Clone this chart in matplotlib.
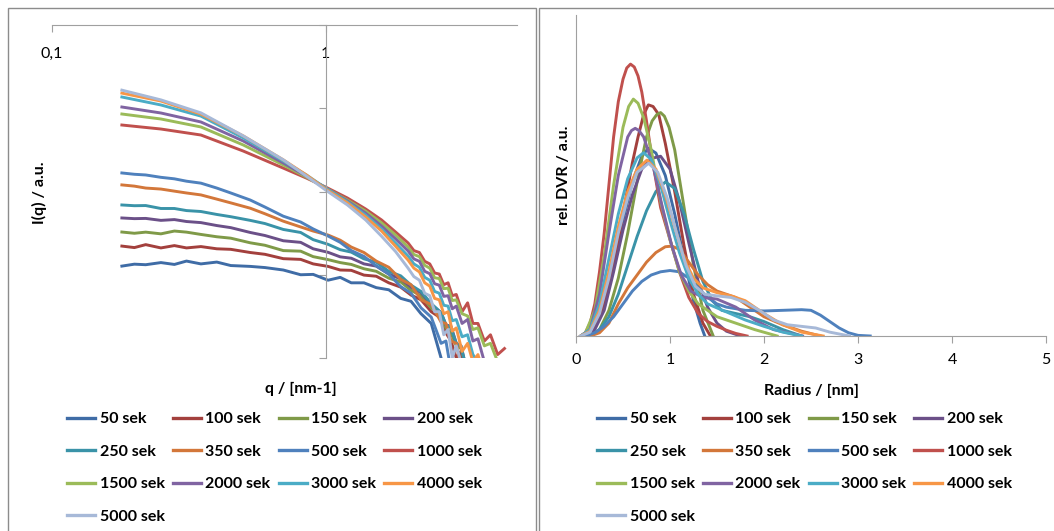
import matplotlib
matplotlib.use("Agg")
import matplotlib.pyplot as plt
from matplotlib.lines import Line2D
from matplotlib.patches import Rectangle
from matplotlib.ticker import NullLocator

plt.rcParams['font.family'] = ['Lato', 'DejaVu Sans']

labels = ["50 sek", "100 sek", "150 sek", "200 sek", "250 sek", "350 sek", "500 sek",
          "1000 sek", "1500 sek", "2000 sek", "3000 sek", "4000 sek", "5000 sek"]
colors = ["#3F6CA6", "#A3403D", "#7F9A48", "#6B5088", "#3A93A8", "#D3773A", "#4F81BD",
          "#C0504D", "#9BBB59", "#8064A2", "#4BACC6", "#F79646", "#A7B9D8"]

# ---- left: scattering curves I(q), log-log ----
q_lo = [0.18, 0.2, 0.22, 0.25, 0.28, 0.31, 0.35, 0.4, 0.45, 0.53, 0.6, 0.7, 0.81, 0.9,
        1.02, 1.13, 1.24, 1.38, 1.53, 1.7, 1.88, 2.05, 2.23, 2.43, 2.64, 2.75, 2.87,
        3.0, 3.12, 3.25, 3.40]
q_hi = [0.18, 0.25, 0.35, 0.50, 0.70, 0.85, 1.0, 1.2, 1.4, 1.6, 1.8, 2.0, 2.1, 2.2, 2.3,
        2.4, 2.5, 2.6, 2.7, 2.8, 2.9, 3.0, 3.15, 3.3, 3.45, 3.6, 3.8, 4.0, 4.25, 4.5]

I_50 = [12.7, 13.4, 13.2, 14.0, 13.3, 14.6, 13.5, 14.2, 12.9, 12.6, 12.2, 11.4, 10.0, 10.1,
        8.6, 9.3, 8.0, 8.0, 7.0, 6.6, 5.2, 4.8, 3.4, 2.6, 1.0, 0.3, 0.3, 0.3, 0.3, 0.3, 0.3]
I_100 = [22.1, 21.2, 23.0, 21.0, 22.4, 21.0, 21.8, 20.5, 20.2, 18.5, 17.6, 15.6, 15.3, 13.5,
         12.6, 11.4, 11.3, 9.9, 9.6, 8.0, 7.1, 5.7, 5.0, 3.6, 3.0, 2.0, 1.6, 1.0, 1.2, 0.3, 0.3]
I_150 = [32.6, 31.5, 32.5, 31.0, 33.5, 32.5, 30.5, 28.6, 27.5, 24.2, 22.6, 19.5, 19.2, 16.5,
         15.2, 14.0, 13.3, 11.8, 11.0, 9.1, 8.2, 6.5, 5.6, 4.0, 3.2, 2.3, 2.0, 1.4, 1.3, 0.8, 0.3]
I_200 = [48.1, 47.2, 47.5, 45.0, 46.0, 43.6, 42.3, 39.0, 36.8, 32.2, 29.6, 25.6, 24.5, 20.5,
         18.6, 16.4, 15.8, 13.5, 12.7, 10.2, 8.9, 7.1, 6.1, 4.4, 3.5, 2.5, 2.4, 1.5, 1.4, 0.8, 0.3]
I_250 = [68.9, 67.5, 67.8, 62.5, 62.5, 59.0, 57.5, 53.0, 49.8, 45.0, 41.2, 35.0, 32.2, 26.4,
         23.2, 20.0, 18.7, 15.5, 14.2, 11.0, 9.7, 7.5, 6.3, 4.5, 3.5, 2.5, 2.3, 1.5, 1.4, 0.8, 0.3]
I_350 = [120, 116, 110, 107, 101, 96, 91, 81, 73, 63, 54, 44, 37.5, 33.5, 30, 26, 21.5,
         18.5, 14.6, 12.3, 8.8, 7.6, 5.0, 4.4, 2.7, 2.6, 1.6, 1.5, 0.8, 0.3, 0.3]
I_500 = [167, 161, 158, 148, 142, 133, 126, 110, 96, 79, 65, 50.5, 43, 35.5, 29.2, 24.5,
         19.5, 16.6, 12.8, 10.2, 7.2, 6.0, 4.0, 3.1, 1.5, 1.6, 0.7, 0.3, 0.3, 0.3, 0.3]
I_1000 = [629, 563, 477, 306, 191, 145, 113, 83.6, 61.6, 45.5, 32.6, 24.1, 19.5, 18.5, 14.5,
          13.5, 10.5, 10.2, 7.6, 8.0, 5.6, 5.8, 3.6, 4.6, 2.6, 2.6, 1.6, 1.9, 1.1, 1.3]
I_1500 = [853, 743, 596, 362, 208, 149, 110, 79, 58, 42, 30, 21.5, 17.5, 16.5, 13.0,
          12.0, 9.2, 9.0, 6.8, 6.9, 4.9, 5.0, 3.4, 3.2, 2.2, 2.3, 1.4, 1.5, 0.9, 0.5]
I_2000 = [1035, 877, 684, 404, 220, 153, 110, 77, 55, 38.5, 27, 19.3, 15.5, 14.5, 11.0,
          10.3, 7.8, 7.5, 5.5, 5.6, 3.9, 4.2, 2.6, 2.9, 1.6, 1.7, 0.9, 0.8, 0.4, 0.3]
I_3000 = [1365, 1095, 805, 440, 232, 158, 110, 75, 52, 35.5, 24, 16.8, 13.5, 12.3, 9.3,
          8.6, 6.3, 6.0, 4.3, 4.2, 2.8, 2.9, 1.8, 1.9, 1.1, 0.9, 0.5, 0.3, 0.3, 0.3]
I_4000 = [1520, 1220, 850, 465, 240, 158, 107, 73, 49.4, 33.5, 22, 15, 12.0, 10.8, 8.0,
          7.3, 5.2, 5.0, 3.4, 3.6, 2.1, 2.3, 1.2, 1.5, 0.9, 1.1, 0.6, 0.3, 0.3, 0.3]
I_5000 = [1650, 1260, 880, 465, 240, 153, 104, 69, 45.5, 29, 19, 12, 9.5, 8.6, 6.0,
          5.6, 3.6, 3.6, 1.9, 2.2, 1.0, 1.4, 0.8, 0.6, 0.3, 0.3, 0.3, 0.3, 0.3, 0.3]

I_all = [I_50, I_100, I_150, I_200, I_250, I_350, I_500,
         I_1000, I_1500, I_2000, I_3000, I_4000, I_5000]

# ---- right: size distributions ----
r_50 = [0.1, 0.2, 0.3, 0.4, 0.5, 0.6, 0.7, 0.77, 0.85, 0.95, 1.05, 1.15, 1.25, 1.32, 1.37]
d_50 = [0, 0.03, 0.1, 0.22, 0.36, 0.48, 0.56, 0.585, 0.57, 0.5, 0.38, 0.24, 0.11, 0.04, 0]
r_100 = [0.1, 0.2, 0.3, 0.4, 0.5, 0.6, 0.66, 0.72, 0.77, 0.82, 0.88, 0.95, 1.05, 1.15,
         1.25, 1.35, 1.43]
d_100 = [0, 0.03, 0.1, 0.22, 0.38, 0.54, 0.62, 0.69, 0.72, 0.715, 0.69, 0.6, 0.45, 0.28,
         0.13, 0.04, 0]
r_150 = [0.15, 0.25, 0.35, 0.45, 0.55, 0.65, 0.75, 0.81, 0.86, 0.9, 0.94, 0.99, 1.05,
         1.15, 1.25, 1.35, 1.46]
d_150 = [0, 0.02, 0.08, 0.18, 0.32, 0.48, 0.62, 0.67, 0.69, 0.696, 0.685, 0.65, 0.58,
         0.4, 0.22, 0.08, 0]
r_200 = [0.1, 0.2, 0.3, 0.4, 0.5, 0.6, 0.7, 0.8, 0.9, 1.0, 1.1, 1.2, 1.3, 1.4, 1.5, 1.6, 1.75]
d_200 = [0, 0.02, 0.08, 0.2, 0.33, 0.44, 0.52, 0.553, 0.56, 0.52, 0.42, 0.29, 0.17, 0.09,
         0.04, 0.015, 0]
r_250 = [0.15, 0.25, 0.35, 0.45, 0.55, 0.65, 0.75, 0.85, 0.95, 1.05, 1.15, 1.25, 1.35, 1.45,
         1.55, 1.7, 1.85, 2.0, 2.2, 2.4]
d_250 = [0, 0.02, 0.06, 0.13, 0.22, 0.31, 0.39, 0.45, 0.48, 0.46, 0.38, 0.27, 0.17, 0.11,
         0.08, 0.07, 0.06, 0.045, 0.02, 0]
r_350 = [0.15, 0.25, 0.35, 0.45, 0.55, 0.65, 0.75, 0.85, 0.95, 1.02, 1.1, 1.2, 1.3, 1.4, 1.5,
         1.6, 1.7, 1.8, 1.9, 2.0, 2.2, 2.4, 2.6]
d_350 = [0, 0.01, 0.04, 0.1, 0.15, 0.19, 0.23, 0.26, 0.278, 0.28, 0.27, 0.23, 0.19, 0.16,
         0.14, 0.13, 0.12, 0.1, 0.08, 0.06, 0.035, 0.015, 0]
r_500 = [0.1, 0.2, 0.3, 0.4, 0.5, 0.6, 0.7, 0.8, 0.9, 1.0, 1.1, 1.2, 1.3, 1.4, 1.5, 1.6, 1.8,
         2.0, 2.2, 2.4, 2.5, 2.6, 2.7, 2.8, 2.9, 3.0, 3.13]
d_500 = [0, 0.01, 0.03, 0.06, 0.1, 0.14, 0.17, 0.19, 0.2, 0.204, 0.2, 0.18, 0.15, 0.12, 0.1,
         0.09, 0.08, 0.078, 0.08, 0.082, 0.08, 0.065, 0.045, 0.025, 0.01, 0.002, 0]
r_1000 = [0.05, 0.1, 0.15, 0.2, 0.25, 0.3, 0.35, 0.4, 0.45, 0.5, 0.54, 0.58, 0.62, 0.66,
          0.7, 0.75, 0.8, 0.9, 1.0, 1.1, 1.2, 1.3, 1.4, 1.5, 1.6, 1.7, 1.82]
d_1000 = [0, 0.01, 0.04, 0.1, 0.2, 0.32, 0.47, 0.62, 0.73, 0.8, 0.835, 0.847, 0.838, 0.81,
          0.76, 0.67, 0.57, 0.4, 0.3, 0.2, 0.12, 0.07, 0.045, 0.03, 0.018, 0.008, 0]
r_1500 = [0.05, 0.1, 0.2, 0.3, 0.4, 0.5, 0.56, 0.61, 0.66, 0.72, 0.8, 0.9, 1.0, 1.1, 1.2,
          1.3, 1.5, 1.7, 1.9, 2.14]
d_1500 = [0, 0.01, 0.08, 0.25, 0.47, 0.65, 0.715, 0.738, 0.725, 0.68, 0.58, 0.42, 0.3,
          0.2, 0.14, 0.1, 0.06, 0.04, 0.02, 0]
r_2000 = [0.05, 0.15, 0.25, 0.35, 0.45, 0.55, 0.59, 0.63, 0.67, 0.72, 0.82, 0.92, 1.02,
          1.12, 1.22, 1.35, 1.5, 1.7, 1.9, 2.1, 2.41]
d_2000 = [0, 0.02, 0.13, 0.32, 0.5, 0.62, 0.64, 0.647, 0.64, 0.62, 0.53, 0.4, 0.28, 0.19,
          0.14, 0.12, 0.115, 0.09, 0.05, 0.02, 0]
r_3000 = [0.05, 0.15, 0.25, 0.35, 0.45, 0.55, 0.65, 0.72, 0.8, 0.9, 1.0, 1.1, 1.2, 1.3, 1.4,
          1.6, 1.8, 2.0, 2.2, 2.4]
d_3000 = [0, 0.02, 0.1, 0.24, 0.38, 0.49, 0.555, 0.571, 0.55, 0.47, 0.36, 0.26, 0.18, 0.13,
          0.1, 0.075, 0.05, 0.03, 0.012, 0]
r_4000 = [0.05, 0.15, 0.25, 0.35, 0.45, 0.55, 0.65, 0.755, 0.85, 0.95, 1.05, 1.15, 1.25,
          1.35, 1.5, 1.65, 1.8, 2.0, 2.2, 2.4, 2.63]
d_4000 = [0, 0.015, 0.08, 0.2, 0.34, 0.45, 0.52, 0.548, 0.52, 0.44, 0.34, 0.24, 0.18, 0.15,
          0.135, 0.125, 0.11, 0.07, 0.035, 0.012, 0]
r_5000 = [0.05, 0.15, 0.25, 0.35, 0.45, 0.55, 0.65, 0.773, 0.87, 0.97, 1.07, 1.17, 1.27,
          1.37, 1.5, 1.65, 1.8, 1.95, 2.1, 2.25, 2.4, 2.55, 2.7, 2.91]
d_5000 = [0, 0.012, 0.07, 0.18, 0.32, 0.43, 0.51, 0.538, 0.51, 0.43, 0.32, 0.22, 0.155,
          0.13, 0.125, 0.12, 0.105, 0.08, 0.05, 0.035, 0.03, 0.025, 0.012, 0]

r_all = [r_50, r_100, r_150, r_200, r_250, r_350, r_500,
         r_1000, r_1500, r_2000, r_3000, r_4000, r_5000]
d_all = [d_50, d_100, d_150, d_200, d_250, d_350, d_500,
         d_1000, d_1500, d_2000, d_3000, d_4000, d_5000]

W, H = 1054, 531
grey = "#A0A0A0"
fig = plt.figure(figsize=(W / 100, H / 100), dpi=100)

# chart area borders
fig.add_artist(Rectangle((8 / W, -0.05), 528 / W, 1.05 - 8 / H, transform=fig.transFigure,
                         fill=False, ec="#8C8C8C", lw=1))
fig.add_artist(Rectangle((539 / W, -0.05), 530 / W, 1.05 - 8 / H, transform=fig.transFigure,
                         fill=False, ec="#8C8C8C", lw=1))

ax1 = fig.add_axes([52 / W, 1 - 358 / H, 465 / W, 333 / H])
ax2 = fig.add_axes([576 / W, 1 - 336 / H, 470 / W, 321 / H])

for i in range(13):
    qq = q_lo if i < 7 else q_hi
    ax1.plot(qq, I_all[i], color=colors[i], lw=2.1, solid_joinstyle="round")
ax1.set_xscale("log")
ax1.set_yscale("log")
ax1.set_xlim(0.1, 5)
ax1.set_ylim(1, 1e4)
for s in ["bottom", "right"]:
    ax1.spines[s].set_visible(False)
ax1.spines["top"].set_color(grey)
ax1.spines["left"].set_color(grey)
ax1.spines["left"].set_position(("data", 1.0))
ax1.set_xticks([0.1, 1])
ax1.set_xticklabels(["0,1", "1"])
ax1.xaxis.set_minor_locator(NullLocator())
ax1.yaxis.set_minor_locator(NullLocator())
ax1.set_yticks([1, 10, 100, 1000, 10000])
ax1.set_yticklabels([])
ax1.tick_params(axis="x", top=True, bottom=False, labeltop=True, labelbottom=False,
                direction="in", length=5, color=grey, pad=-26, labelsize=11.5)
ax1.tick_params(axis="y", direction="out", length=5, color=grey)
ax1.set_xlabel("q / [nm-1]", fontsize=11.5, fontweight="bold")
ax1.xaxis.set_label_position("bottom")
ax1.xaxis.set_label_coords(0.535, -0.093)
ax1.xaxis.label.set_va("center")
ax1.set_ylabel("I(q) / a.u.", fontsize=11.5, fontweight="bold")
ax1.yaxis.set_label_coords(-0.026, 0.495)
ax1.yaxis.label.set_va("center")

for i in range(13):
    ax2.plot(r_all[i], d_all[i], color=colors[i], lw=2.1, solid_joinstyle="round")
ax2.set_xlim(0, 5)
ax2.set_ylim(0, 1)
for s in ["top", "right"]:
    ax2.spines[s].set_visible(False)
ax2.spines["left"].set_color(grey)
ax2.spines["bottom"].set_color(grey)
ax2.set_xticks([0, 1, 2, 3, 4, 5])
ax2.set_yticks([])
ax2.tick_params(axis="x", direction="out", length=5, color=grey, labelsize=11.5, pad=7)
ax2.set_xlabel("Radius / [nm]", fontsize=11.5, fontweight="bold")
ax2.xaxis.set_label_coords(0.5, -0.17)
ax2.xaxis.label.set_va("center")
ax2.set_ylabel("rel. DVR / a.u.", fontsize=11.5, fontweight="bold")
ax2.yaxis.set_label_coords(-0.026, 0.5)
ax2.yaxis.label.set_va("center")

# legends (row-wise order, 4 columns)
order = [0, 4, 8, 12, 1, 5, 9, 2, 6, 10, 3, 7, 11]
handles = [Line2D([], [], color=colors[i], lw=2.4) for i in order]
labs = [labels[i] for i in order]
for x0 in (67, 597):
    fig.legend(handles, labs, loc="upper left", bbox_to_anchor=(x0 / W, 1 - 412 / H),
               ncol=4, frameon=False, borderpad=0, borderaxespad=0,
               handlelength=1.75, handletextpad=0.3, columnspacing=0.5,
               labelspacing=1.15, prop={"size": 11.5, "weight": "bold"})

fig.savefig("out.png", dpi=100)
